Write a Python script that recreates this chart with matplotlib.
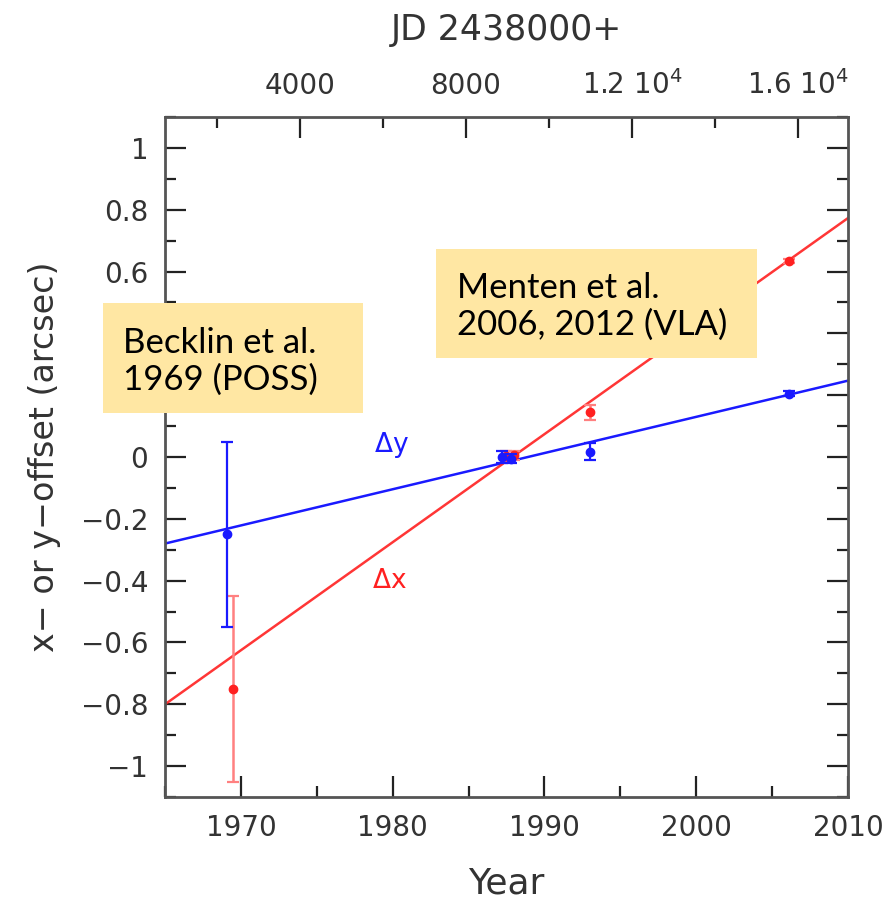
import matplotlib
matplotlib.use('Agg')
import matplotlib.pyplot as plt
from matplotlib.patches import Rectangle
from matplotlib.ticker import MultipleLocator, FixedLocator, FixedFormatter

years_dy = [1969.1, 1987.2, 1987.8, 1993.0, 2006.1]
dy = [-0.25, 0.0, -0.005, 0.017, 0.204]
dy_err = [0.30, 0.02, 0.015, 0.027, 0.008]

years_dx = [1969.45, 1987.5, 1988.0, 1993.0, 2006.1]
dx = [-0.75, 0.003, 0.005, 0.144, 0.634]
dx_err = [0.30, 0.015, 0.015, 0.025, 0.008]

# straight-line fits (end points at 1965 and 2010)
fit_years = [1965, 2010]
fit_dy = [-0.28, 0.247]
fit_dx = [-0.80, 0.773]

jd_ticks = [4000, 8000, 12000, 16000]
jd_labels = ['4000', '8000', r'1.2 10$^4$', r'1.6 10$^4$']
jd_minor = [2000, 6000, 10000, 14000]

JD0_YEAR = 1962.92  # JD 2438000 as a year

BLUE = '#1a1aff'
RED = '#ff2020'
TXT = '#333333'
BOX = '#ffe7a3'
W, H = 890, 911

fig = plt.figure(figsize=(8.9, 9.11), dpi=100)
ax = fig.add_axes([0.1854, 0.1251, 0.7674, 0.7465])

ax.plot(fit_years, fit_dy, color=BLUE, lw=1.8)
ax.plot(fit_years, fit_dx, color=RED, lw=1.8, alpha=0.9)

ax.errorbar(years_dy, dy, yerr=dy_err, fmt='o', color=BLUE, ms=6,
            elinewidth=1.6, capsize=4, capthick=1.6, zorder=4)
ax.errorbar(years_dx, dx, yerr=dx_err, fmt='o', color=RED, ms=6,
            ecolor='#ff8080', elinewidth=1.8, capsize=4, capthick=1.6, zorder=3)

ax.text(1979.9, 0.04, r'$\Delta$y', color=BLUE, fontsize=19, ha='center', va='center')
ax.text(1979.8, -0.40, r'$\Delta$x', color=RED, fontsize=19, ha='center', va='center')

ax.set_xlim(1965, 2010)
ax.set_ylim(-1.1, 1.1)
ax.xaxis.set_major_locator(MultipleLocator(10))
ax.xaxis.set_minor_locator(MultipleLocator(5))
ax.yaxis.set_major_locator(MultipleLocator(0.2))
ax.yaxis.set_minor_locator(MultipleLocator(0.1))
ax.yaxis.set_major_formatter(plt.FuncFormatter(
    lambda v, p: '0' if abs(v) < 1e-9 else ('%g' % v).replace('-', '\u2212')))

ax.tick_params(which='both', direction='in', right=True, top=False,
               labelsize=20, labelcolor=TXT, width=1.6, color='#222222', pad=12)
ax.tick_params(which='major', length=15)
ax.tick_params(which='minor', length=8)
for s in ax.spines.values():
    s.set_color('#555555')
    s.set_linewidth(2)

ax.set_xlabel('Year', fontsize=26, color=TXT, labelpad=18)
ax.set_ylabel('x\u2212 or y\u2212offset (arcsec)', fontsize=24, color=TXT, labelpad=14)

top = ax.secondary_xaxis('top', functions=(lambda y: (y - JD0_YEAR) * 365.25,
                                           lambda d: JD0_YEAR + d / 365.25))
top.xaxis.set_major_locator(FixedLocator(jd_ticks))
top.xaxis.set_major_formatter(FixedFormatter(jd_labels))
top.xaxis.set_minor_locator(FixedLocator(jd_minor))
top.tick_params(which='both', direction='in', labelsize=20, labelcolor=TXT,
                width=1.6, color='#222222', pad=12)
top.tick_params(which='major', length=15)
top.tick_params(which='minor', length=8)
top.spines['top'].set_visible(False)
top.set_xlabel('JD 2438000+', fontsize=25, color=TXT, labelpad=22)

# yellow note boxes, placed in figure pixels
box_font = ['Lato', 'DejaVu Sans']
notes = [
    ((103, 303, 363, 413), (123, 361.5), 'Becklin et al.\n1969 (POSS)'),
    ((436, 249, 757, 358), (457, 306.5), 'Menten et al.\n2006, 2012 (VLA)'),
]
for (x0, y0, x1, y1), (tx, ty), label in notes:
    fig.add_artist(Rectangle((x0 / W, 1 - y1 / H), (x1 - x0) / W, (y1 - y0) / H,
                             transform=fig.transFigure, fc=BOX, ec='none', zorder=5))
    fig.text(tx / W, 1 - ty / H, label, fontsize=25, family=box_font, color='black',
             ha='left', va='center', linespacing=1.2, zorder=6)

fig.savefig('out.png', dpi=100)
